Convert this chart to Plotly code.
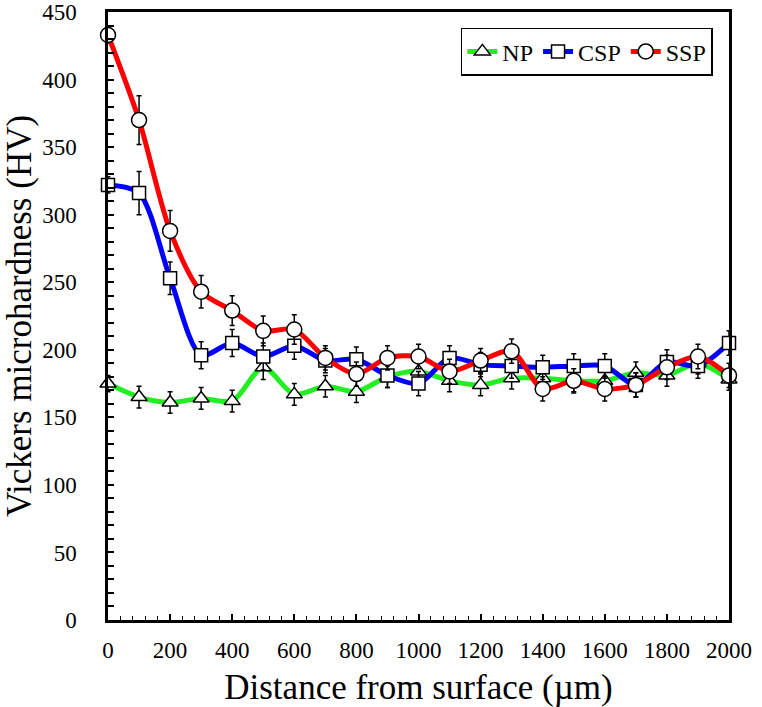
import plotly.graph_objects as go

distance = [0, 100, 200, 300, 400, 500, 600, 700, 800, 900, 1000,
            1100, 1200, 1300, 1400, 1500, 1600, 1700, 1800, 1900, 2000]

np_hv = [175, 165, 161, 164, 162, 187, 167, 173, 169, 180, 184,
         177, 174, 179, 179, 177, 177, 183, 181, 190, 178]
np_err = [6, 8, 8, 8, 8, 9, 8, 8, 8, 8, 8,
          8, 8, 8, 8, 8, 8, 8, 8, 8, 8]

csp_hv = [322, 316, 253, 196, 205, 195, 203, 192, 193, 181, 175,
          194, 189, 188, 187, 188, 188, 174, 191, 188, 205]
csp_err = [6, 16, 12, 10, 10, 10, 10, 9, 9, 9, 9,
           9, 9, 9, 9, 9, 9, 9, 9, 9, 9]

ssp_hv = [433, 370, 288, 243, 229, 214, 215, 194, 182, 194, 195,
          184, 192, 199, 171, 177, 171, 174, 187, 195, 181]
ssp_err = [6, 18, 15, 12, 11, 11, 11, 9, 9, 9, 9,
           9, 9, 9, 9, 9, 9, 9, 9, 9, 9]

series = [
    ("NP", np_hv, np_err, "#22ee22", "triangle-up", 14),
    ("CSP", csp_hv, csp_err, "#0000ff", "square", 13),
    ("SSP", ssp_hv, ssp_err, "#ff0000", "circle", 15),
]

FONT = "Liberation Serif"

fig = go.Figure()
for name, vals, errs, color, sym, size in series:
    fig.add_trace(go.Scatter(
        x=distance, y=vals, name=name, mode="lines+markers",
        line=dict(color=color, width=5, shape="spline", smoothing=0.8),
        marker=dict(symbol=sym, size=size, color="white",
                    line=dict(color="black", width=1.5)),
        error_y=dict(type="data", array=errs, visible=True,
                     color="black", thickness=1.5, width=2.5),
        cliponaxis=False,
    ))

fig.update_layout(
    width=762, height=707,
    margin=dict(l=108, r=33, t=12, b=87),
    paper_bgcolor="white", plot_bgcolor="white",
    font=dict(family=FONT, color="black", size=20),
    showlegend=True,
    legend=dict(orientation="h", x=0.974, y=0.974, xanchor="right", yanchor="top",
                bordercolor="black", borderwidth=1.5, bgcolor="white",
                font=dict(size=24, family=FONT), itemwidth=30,
                tracegroupgap=0),
)

fig.update_xaxes(
    range=[0, 2000], tickmode="linear", tick0=0, dtick=200,
    ticks="inside", ticklen=6, tickwidth=1.5, tickcolor="black",
    minor=dict(dtick=40, ticks="inside", ticklen=4, tickwidth=1.2, tickcolor="black"),
    showline=True, linecolor="black", linewidth=2.5, mirror=True,
    showgrid=False, zeroline=False, automargin=False,
    tickfont=dict(size=23, family=FONT), ticklabelstandoff=8,
    ticklabeloverflow="allow",
    title=dict(text="Distance from surface (µm)", font=dict(size=35, family=FONT), standoff=16),
)
fig.update_yaxes(
    range=[0, 450], tickmode="linear", tick0=0, dtick=50,
    ticks="inside", ticklen=6, tickwidth=1.5, tickcolor="black",
    minor=dict(dtick=10, ticks="inside", ticklen=6, tickwidth=1.5, tickcolor="black"),
    showline=True, linecolor="black", linewidth=2.5, mirror=True,
    showgrid=False, zeroline=False, automargin=False,
    tickfont=dict(size=23, family=FONT), ticklabelstandoff=24,
    ticklabeloverflow="allow",
    title=dict(text="Vickers microhardness (HV)", font=dict(size=35, family=FONT), standoff=18),
)

fig.write_html("out.html",
               config={"displayModeBar": False},
               post_script="document.body.style.margin='0px';document.body.style.overflow='hidden';")
